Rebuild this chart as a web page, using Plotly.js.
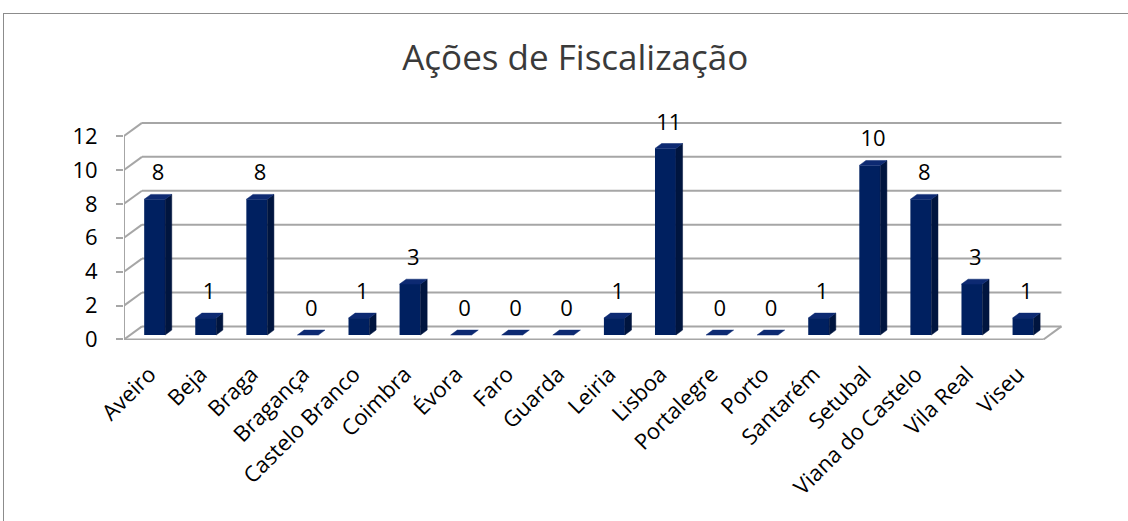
<!DOCTYPE html>
<html>
<head>
<meta charset="utf-8">
<script src="https://cdn.plot.ly/plotly-3.0.1.min.js"></script>
<style>
  html, body { margin: 0; padding: 0; background: #fff; }
  #wrap { position: relative; width: 1128px; height: 521px; overflow: hidden; }
  #frame { position: absolute; left: 3px; top: 13px; width: 1140px; height: 540px; border: 1px solid #8c8c8c; box-sizing: border-box; pointer-events: none; }
  #chart { position: absolute; left: 0; top: 0; width: 1128px; height: 521px; }
</style>
</head>
<body>
<div id="wrap">
  <div id="chart"></div>
  <div id="frame"></div>
</div>
<script>
// ---- data ----
const categories = ["Aveiro", "Beja", "Braga", "Bragança", "Castelo Branco", "Coimbra", "Évora", "Faro", "Guarda", "Leiria", "Lisboa", "Portalegre", "Porto", "Santarém", "Setubal", "Viana do Castelo", "Vila Real", "Viseu"];
const values = [8, 1, 8, 0, 1, 3, 0, 0, 0, 1, 11, 0, 0, 1, 10, 8, 3, 1];
const yTickValues = [0, 2, 4, 6, 8, 10, 12];
const chartTitle = "Ações de Fiscalização";

// ---- 3D look (styling / geometry, in axis units) ----
const DX = 0.352, DZ = 0.77;      // depth offset of the back wall
const FX = 0.10, BZ = 0.265;      // front face position of a column inside the depth
const W = 0.41;                   // column width
const BDX = 0.13, BDZ = 0.29;     // column depth
const LABEL_GAP = 0.5;            // gap between column top and its value label
const FRONT = "#002060", SIDE = "#00153f", TOP = "#0d2a72";
const GRID = "#a6a6a6";
const FONT = "'Open Sans', Carlito, Calibri, Lato, sans-serif";

const idx = categories.map((_, i) => i);
const n = categories.length;
const xMin = -0.5, xMax = n - 0.5;
const yMax = yTickValues[yTickValues.length - 1];

// side faces and top faces as polygons computed from the values
const sideX = [], sideY = [], topX = [], topY = [];
idx.forEach(i => {
  const v = values[i];
  const xl = i + FX - W / 2, xr = i + FX + W / 2;
  if (v > 0) {
    sideX.push(xr, xr + BDX, xr + BDX, xr, xr, null);
    sideY.push(BZ, BZ + BDZ, BZ + BDZ + v, BZ + v, BZ, null);
  }
  topX.push(xl, xl + BDX, xr + BDX, xr, xl, null);
  topY.push(BZ + v, BZ + v + BDZ, BZ + v + BDZ, BZ + v, BZ + v, null);
});

const traces = [
  {
    type: "bar", x: idx.map(i => i + FX), y: values, base: values.map(() => BZ),
    width: W, marker: { color: FRONT, line: { width: 0 } },
    hoverinfo: "skip", showlegend: false
  },
  {
    type: "scatter", mode: "lines", x: sideX, y: sideY, fill: "toself",
    fillcolor: SIDE, line: { color: SIDE, width: 0.5 }, hoverinfo: "skip", showlegend: false
  },
  {
    type: "scatter", mode: "lines", x: topX, y: topY, fill: "toself",
    fillcolor: TOP, line: { color: TOP, width: 0.5 }, hoverinfo: "skip", showlegend: false
  },
  {
    type: "scatter", mode: "text", x: idx.map(i => i + FX + BDX / 2), y: values.map(v => BZ + v + BDZ + LABEL_GAP),
    text: values.map(String), textposition: "top center",
    textfont: { family: FONT, size: 22, color: "#000" }, cliponaxis: false,
    hoverinfo: "skip", showlegend: false
  }
];

// frame lines: back wall grid, left side diagonals, floor, front axis
const shapes = [];
yTickValues.forEach(v => {
  shapes.push({ type: "line", xref: "x", yref: "y", layer: "below", x0: xMin + DX, x1: xMax + DX, y0: v + DZ, y1: v + DZ, line: { color: GRID, width: 2 } });
  shapes.push({ type: "line", xref: "x", yref: "y", layer: "below", x0: xMin, x1: xMin + DX, y0: v, y1: v + DZ, line: { color: GRID, width: 2 } });
});
shapes.push({ type: "line", xref: "x", yref: "y", layer: "below", x0: xMin, x1: xMax, y0: 0, y1: 0, line: { color: GRID, width: 2 } });
shapes.push({ type: "line", xref: "x", yref: "y", layer: "below", x0: xMax, x1: xMax + DX, y0: 0, y1: DZ, line: { color: GRID, width: 2 } });
shapes.push({ type: "line", xref: "x", yref: "y", layer: "below", x0: xMin, x1: xMin, y0: 0, y1: yMax, line: { color: GRID, width: 2 } });

const layout = {
  width: 1128, height: 521,
  margin: { l: 124, r: 59, t: 119, b: 181, pad: 0 },
  paper_bgcolor: "#fff", plot_bgcolor: "rgba(0,0,0,0)",
  title: {
    text: chartTitle, xref: "container", yref: "container", x: 0.51, y: 0.89,
    xanchor: "center", yanchor: "middle",
    font: { family: FONT, size: 35, color: "#3a3a3a", weight: 400 }
  },
  showlegend: false,
  xaxis: {
    range: [xMin, xMax + 0.5], tickmode: "array", tickvals: idx, ticktext: categories,
    tickangle: -45, ticks: "", ticklabelstandoff: 16, showgrid: false, zeroline: false, showline: false,
    tickfont: { family: FONT, size: 22, color: "#000" }, fixedrange: true
  },
  xaxis2: {
    overlaying: "x", matches: "x", anchor: "y", side: "bottom",
    range: [xMin, xMax + 0.5], tickmode: "array", tickvals: idx.map(i => i - 0.5).concat([xMax]),
    showticklabels: false, ticks: "outside", ticklen: 7, tickwidth: 2, tickcolor: GRID,
    showgrid: false, zeroline: false, showline: false
  },
  yaxis: {
    range: [-0.03, 13.0], tickmode: "array", tickvals: yTickValues,
    ticks: "outside", ticklen: 7, tickwidth: 2, tickcolor: GRID, ticklabelstandoff: 14,
    showgrid: false, zeroline: false, showline: false,
    tickfont: { family: FONT, size: 22, color: "#000" }, fixedrange: true
  },
  shapes: shapes
};

Plotly.newPlot("chart", traces, layout, { staticPlot: true, displayModeBar: false });
</script>
</body>
</html>
